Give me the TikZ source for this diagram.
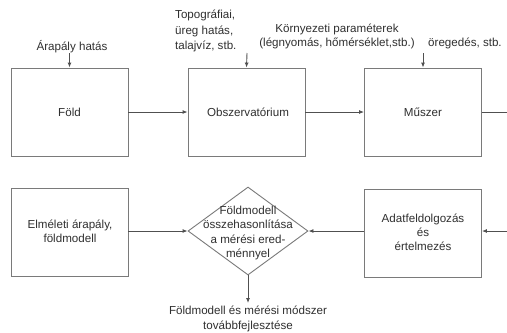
\documentclass[tikz,border=0pt]{standalone}
\usepackage{fontspec}
\setmainfont{Liberation Sans}
\usetikzlibrary{arrows.meta,shapes.geometric}
\definecolor{ln}{HTML}{505050}
\definecolor{bx}{HTML}{7A7A7A}
\definecolor{tx}{HTML}{303030}
\tikzset{
  blk/.style={draw=bx,line width=0.9bp,minimum width=117bp,minimum height=88bp,inner sep=0pt},
  lbl/.style={text=tx,font=\fontsize{11.6bp}{14bp}\selectfont,inner sep=0pt},
  conn/.style={draw=ln,line width=0.9bp,-{Latex[length=5bp,width=4bp]}},
  plain/.style={draw=ln,line width=0.9bp}
}
\begin{document}
\begin{tikzpicture}[x=1bp,y=-1bp]
\useasboundingbox (0,0) rectangle (507,332);
\fill[white] (0,0) rectangle (507,332);
% top row
\node[blk] (fold) at (69.5,112) {};
\node[lbl] at (fold.center) {Föld};
\node[blk] (obs) at (246.5,112) {};
\node[lbl] at (248,112) {Obszervatórium};
\node[blk] (muszer) at (423,112) {};
\node[lbl] at (423,112) {Műszer};
% bottom row
\node[blk] (elm) at (69.5,232.5) {};
\node[lbl,align=center] at (70,231) {Elméleti árapály,\\földmodell};
\node[draw=bx,line width=0.9bp,diamond,minimum width=120bp,minimum height=88bp,inner sep=0pt] (dia) at (248,231) {};
\node[lbl,align=center,font=\fontsize{11.6bp}{14.5bp}\selectfont] at (248,233) {Földmodell\\összehasonlítása\\a mérési ered-\\ménnyel};
\node[blk] (adat) at (423,233) {};
\node[lbl,align=center] at (423,232) {Adatfeldolgozás\\és\\értelmezés};
% labels on top
\node[lbl] (l1) at (72,47) {Árapály hatás};
\node[lbl,align=left,anchor=west,font=\fontsize{11.6bp}{15.5bp}\selectfont] (l2) at (175,31) {Topográfiai,\\üreg hatás,\\talajvíz, stb.};
\node[lbl,align=center] (l3) at (337,36) {Környezeti paraméterek\\(légnyomás, hőmérséklet,stb.)};
\node[lbl,anchor=west] (l4) at (428,43) {öregedés, stb.};
\node[lbl,align=center,font=\fontsize{11.6bp}{15bp}\selectfont,anchor=north] (l5) at (248,306) {Földmodell és mérési módszer\\továbbfejlesztése};
% free ends
\coordinate (a1) at (69.5,53);
\coordinate (a2) at (247,53);
\coordinate (a3) at (423,53);
\coordinate (r1) at (520,112);
\coordinate (r2) at (520,231);
\coordinate (b1) at (248,303);
% connectors
\draw[conn] (a1) -- (fold.north);
\draw[conn] (a2) -- (obs.north);
\draw[conn] (a3) -- (muszer.north);
\draw[conn] (fold.east) -- (obs.west);
\draw[conn] (obs.east) -- (muszer.west);
\draw[plain] (muszer.east) -- (r1);
\draw[conn] (r2) -- (adat.east |- r2);
\draw[conn] (adat.west |- dia.east) -- (dia.east);
\draw[conn] (elm.east |- dia.west) -- (dia.west);
\draw[conn] (dia.south) -- (b1);
\end{tikzpicture}
\end{document}
